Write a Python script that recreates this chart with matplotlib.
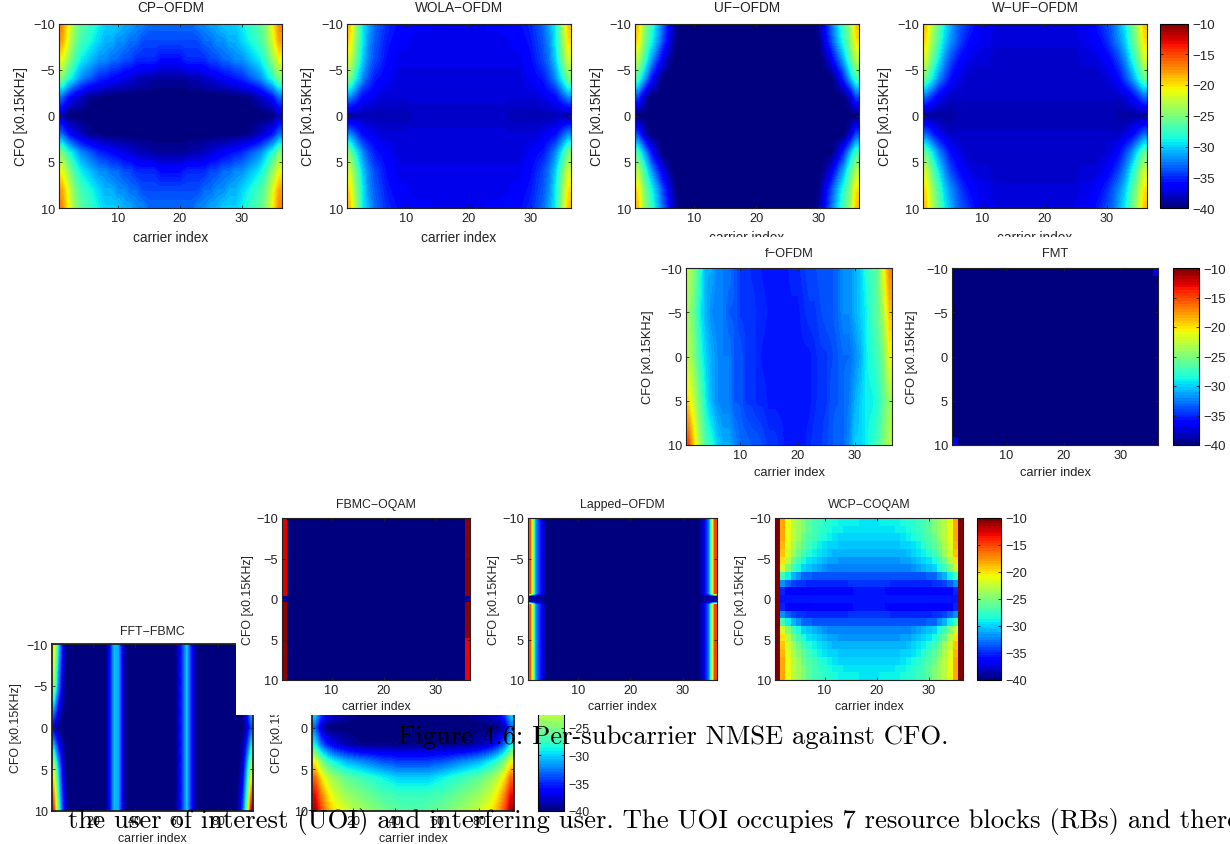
import matplotlib
matplotlib.use("Agg")
import matplotlib.pyplot as plt
from matplotlib.patches import Rectangle

plt.rcParams["font.family"] = ["Liberation Sans", "DejaVu Sans"]

W, H = 1230, 845
cmap = plt.get_cmap("jet", 64)

# left half of each row, top half of each panel (values in dB)
cp_half = [
    [-17, -20.5, -24, -26, -27, -28, -29, -30, -30, -30, -31, -31, -32, -32, -33, -33, -33, -33],
    [-18, -21.5, -25, -27, -28, -29, -30, -31, -31, -32, -32, -33, -33, -34, -34, -34, -34, -34],
    [-21, -24, -27, -29, -30, -31, -32, -32, -33, -33, -34, -34, -35, -35, -35, -35, -36, -36],
    [-25, -28, -30, -32, -33, -34, -35, -35.5, -36, -36.5, -37, -37.5, -38, -38.5, -38.5, -39, -39, -39],
    [-33, -35.5, -37, -38, -39, -39.5, -39.5, -40, -40, -40, -40, -40, -40, -40, -40, -40, -40, -40],
    [-38, -40, -40, -40, -40, -40, -40, -40, -40, -40, -40, -40, -40, -40, -40, -40, -40, -40],
]
wola_half = [
    [-19, -24, -29, -31, -33, -34, -35, -35.5, -36, -36, -36, -36.5, -36.5, -36.5, -37, -37, -37, -37],
    [-20, -25, -29, -32, -33.5, -34.5, -35.5, -36, -36.5, -36.5, -37, -37, -37, -37, -37, -37, -37, -37],
    [-22, -26, -30, -32.5, -34, -35, -36, -36.5, -37, -37, -37, -37, -37, -37, -37, -37, -37, -37],
    [-25, -29, -32, -34, -35.5, -36, -36.5, -37, -37.5, -37.5, -37.5, -37.5, -37.5, -37.5, -37.5, -37.5, -37.5, -37.5],
    [-32, -34, -36, -36.5, -37, -37.5, -37.5, -37.5, -37.5, -37.5, -37.5, -37.5, -37.5, -37.5, -37.5, -37.5, -37.5, -37.5],
    [-39, -38.5, -38.5, -38.5, -38.5, -38.5, -38.5, -38.5, -38.5, -38.5, -38, -38, -38, -38, -38, -38, -38, -38],
]
uf_half = [
    [-19, -24, -27, -30, -33, -36, -39] + [-40] * 11,
    [-20, -25, -28, -31, -34, -37, -39.5] + [-40] * 11,
    [-23, -27, -31, -34, -37, -39] + [-40] * 12,
    [-27, -31, -35, -38] + [-40] * 14,
    [-34, -38] + [-40] * 16,
    [-40] * 18,
]
wuf_half = [
    [-19, -23, -26, -29, -31, -33, -34, -35, -36, -36.5, -37, -37, -37.5, -37.5, -37.5, -37.5, -37.5, -37.5],
    [-20, -24, -27, -30, -32, -33.5, -35, -36, -36.5, -37, -37, -37.5, -37.5, -37.5, -37.5, -37.5, -37.5, -37.5],
    [-22, -26, -29, -32, -34, -35.5, -36.5, -37, -37.5, -37.5, -37.5, -38, -38, -38, -38, -38, -38, -38],
    [-26, -29, -32, -34, -36, -37, -37.5, -38, -38, -38, -38, -38, -38, -38, -38, -38, -38, -38],
    [-33, -35, -36.5, -37.5, -38, -38, -38, -38, -38, -38, -38, -38, -38, -38, -38, -38, -38, -38],
    [-39, -39, -39, -39, -39, -38.5, -38.5, -38.5, -38.5, -38.5, -38.5, -38.5, -38.5, -38.5, -38.5, -38.5, -38.5, -38.5],
]
fofdm_vals = [
    [-23, -25, -28, -31, -31, -32.5, -32.5, -32.5, -33.5, -34.5, -34.5, -35, -35, -35.5, -35.5, -35.5, -35.5, -35.5,
     -35, -35, -34.5, -34, -34, -33.5, -33.5, -33.5, -33, -32, -32, -31, -30, -28, -27, -26, -21, -17],
    [-24, -26, -29, -31, -32, -32.5, -32.5, -33.5, -33.5, -34.5, -34.5, -34.5, -35, -35, -35.5, -35.5, -35.5, -35.5,
     -35.5, -35.5, -35, -34.5, -34.5, -34, -33.5, -33.5, -33, -32, -32, -31, -30, -29, -27, -26, -23, -19],
    [-23, -25, -28, -30, -31, -32, -32.5, -32.5, -33.5, -33.5, -34.5, -34.5, -35, -35.5, -35.5, -35.5, -35.5, -35.5,
     -35.5, -35.5, -35.5, -35.5, -35, -34.5, -34.5, -34, -33.5, -33, -33, -32, -31, -29, -28, -27, -25, -21],
    [-20, -23, -26, -29, -31, -32, -32.5, -32.5, -33.5, -33.5, -34.5, -34.5, -35, -35, -35.5, -35.5, -35.5, -35.5,
     -35.5, -35.5, -35.5, -35.5, -35, -34.5, -34.5, -33.5, -33.5, -33, -32.5, -31, -30, -29, -29, -28, -26, -24],
    [-15, -20, -24, -27, -28, -30, -31, -31, -32, -33, -33, -33.5, -33.5, -34, -34.5, -34.5, -35, -35.5,
     -35.5, -35.5, -35.5, -35, -34.5, -34.5, -34, -33.5, -33, -33, -32, -30, -30, -29, -28, -27, -25, -23],
]
fmt_top = [-40] * 35 + [-37]
fmt_mid = [-40] * 36
fmt_bottom = [-37] + [-40] * 35

# first and last carrier of FBMC-OQAM along the CFO axis
fbmc_left = [-12.5] * 15 + [-39] + [-10.5] * 15
fbmc_right = [-10.5] * 15 + [-39] + [-10.5] * 7 + [-13] * 8
lapped_row = [-16, -32, -36] + [-40] * 30 + [-37, -32, -15]
lapped_zero = [-39, -39, -39] + [-40] * 30 + [-39, -39, -39]

wcp_half = [
    [-10, -18, -21, -23, -24, -25, -26, -27, -27, -28, -28, -28.5, -29, -29, -29, -29, -29.5, -29.5],
    [-10, -18, -21, -23, -24, -25, -26, -27, -27.5, -28, -28.5, -29, -29, -29.5, -29.5, -29.5, -29.5, -29.5],
    [-10, -18, -21, -23, -24, -25.5, -26.5, -27, -28, -28.5, -29, -29.5, -30, -30, -30, -30, -30, -30],
    [-10, -18.5, -21.5, -23.5, -25, -26, -27, -28, -29, -29.5, -30, -30, -30.5, -30.5, -30.5, -30.5, -30.5, -30.5],
    [-10, -19, -22, -24, -25.5, -27, -28, -29, -29.5, -30, -30.5, -31, -31, -31, -31, -31, -31, -31],
    [-10, -20, -23, -25.5, -27, -28.5, -29.5, -30, -30.5, -31, -31.5, -31.5, -32, -32, -32, -32, -32, -32],
    [-10, -22, -25, -27, -28.5, -30, -30.5, -31, -31.5, -32, -32.5, -32.5, -32.5, -32.5, -32.5, -32.5, -32.5, -32.5],
    [-10, -27, -29, -31, -32, -33, -33, -33.5, -33.5, -33.5, -33.5, -33.5, -33.5, -33.5, -33.5, -33.5, -33.5, -33.5],
    [-10, -32, -33, -34, -34.5, -34.5, -35, -35, -35, -35, -35, -35, -35, -35, -34.5, -34.5, -34.5, -34.5],
    [-10, -35, -36, -36, -36.5, -36.5, -36.5, -36, -36, -36, -36, -36, -36, -36, -36, -35.5, -35.5, -35.5],
    [-10, -35.5, -35.5, -35.5, -35.5, -35.5, -35.5, -35.5, -35.5, -35.5, -35.5, -35.5, -35.5, -35.5, -35.5, -35.5, -35.5, -35.5],
]

# FFT-FBMC, one value per two carriers
fft_middle = [-40] * 9 + [-36, -30.5, -31, -37] + [-40] * 12 + [-38, -34, -30, -35, -39] + [-40] * 9
fft_left = [
    [-20, -29, -36, -40],
    [-24, -32, -38, -40],
    [-37, -40, -40, -40],
    [-22, -30, -37, -40],
    [-14, -26, -34, -39],
]
fft_right = [
    [-40, -38, -30, -20],
    [-40, -39, -33, -25],
    [-40, -40, -38, -34],
    [-40, -38, -31, -23],
    [-39, -34, -26, -12],
]

# panel without a visible title, half row per three carriers
last_half = [
    [-11, -15, -18, -20, -21, -22, -23, -23.5, -24, -24.5, -25, -25.5, -26, -26, -26.5, -26.5],
    [-13, -17, -20, -22, -23, -24, -24.5, -25, -25.5, -26, -26.5, -27, -27, -27.5, -27.5, -27.5],
    [-16, -20, -22.5, -24, -25, -26, -26.5, -27, -27.5, -28, -28.5, -29, -29.5, -30, -30, -30],
    [-21, -25, -27.5, -29, -30, -31, -31.5, -32, -32.5, -33, -33.5, -34, -34, -34.5, -34.5, -34.5],
    [-29, -33, -35.5, -37, -38, -38.5, -39, -39.5, -39.5, -39.5, -39.5, -39.5, -39.5, -39.5, -39.5, -39.5],
    [-33, -38] + [-40] * 14,
]

cfo_ticks = [-10, -5, 0, 5, 10]
carrier_ticks = [10, 20, 30]
wide_ticks = [20, 40, 60, 80]
cbar_ticks = [-10, -15, -20, -25, -30, -35, -40]
cbar_ticks_low = [-25, -30, -35, -40]


def mirror_lr(half):
    return [row + row[::-1] for row in half]


def mirror_ud(rows):
    return rows + rows[-2::-1]


def px_axes(x0, x1, y0, y1, z):
    return fig.add_axes([x0 / W, 1 - y1 / H, (x1 - x0) / W, (y1 - y0) / H], zorder=z)


def panel(box, data, title, z, fs=9.2, tfs=9.8, interp="bilinear", xticks=carrier_ticks, xmax=36.5,
          dy=29, dx=38, tdy=16, lw=0.8):
    x0, x1, y0, y1 = box
    ax = px_axes(x0, x1, y0, y1, z)
    n = len(data)
    half = 10 / (n - 1)
    extent = [0.5, xmax, 10 + half, -10 - half]
    if interp == "nearest":
        extent = [0.5, xmax, 10, -10]
    im = ax.imshow(data, cmap=cmap, vmin=-40, vmax=-10, aspect="auto", extent=extent,
                   interpolation=interp, interpolation_stage="data")
    ax.set_xlim(0.5, xmax)
    ax.set_ylim(10, -10)
    ax.set_xticks(xticks)
    ax.set_yticks(cfo_ticks)
    ax.tick_params(direction="in", length=2.5, width=0.6, top=True, right=True, labelsize=fs,
                   pad=3, colors="#222222")
    for s in ax.spines.values():
        s.set_linewidth(lw)
        s.set_color("#222222")
    fig.text((x0 + x1) / 2 / W, 1 - (y1 + dy) / H, "carrier index", fontsize=tfs, color="#222222",
             ha="center", va="center", zorder=z)
    fig.text((x0 - dx) / W, 1 - (y0 + y1) / 2 / H, "CFO [x0.15KHz]", fontsize=tfs, color="#222222",
             rotation=90, ha="center", va="center", zorder=z)
    if title:
        fig.text((x0 + x1) / 2 / W, 1 - (y0 - tdy) / H, title, fontsize=tfs, color="#222222",
                 ha="center", va="center", zorder=z)
    return im


def colorbar(im, box, z, ticks=cbar_ticks, fs=9.5):
    x0, x1, y0, y1 = box
    cax = px_axes(x0, x1, y0, y1, z)
    cb = fig.colorbar(im, cax=cax, ticks=ticks)
    cb.outline.set_linewidth(0.8)
    cax.tick_params(direction="in", length=2.5, width=0.6, left=True, right=True, labelsize=fs,
                    pad=3, colors="#222222")


fig = plt.figure(figsize=(W / 100, H / 100), dpi=100)

# bottom row sits under the pasted white block
fft_vals = [a + fft_middle + b for a, b in zip(fft_left, fft_right)]
panel((52, 253, 645, 812), fft_vals, "FFT\u2212FBMC", 1, fs=9, tfs=8.9, xticks=wide_ticks,
      xmax=96.5, dy=27, dx=36, tdy=13, lw=1.3)
im = panel((312, 514, 645, 812), mirror_ud(mirror_lr(last_half)), None, 1, fs=9, tfs=8.9,
           xticks=wide_ticks, xmax=96.5, dy=27, dx=35, lw=1.3)
colorbar(im, (538, 564, 645, 812), 1, ticks=cbar_ticks_low, fs=9)

fig.add_artist(Rectangle((236 / W, 1 - 716 / H), (W - 236) / W, 120 / H, transform=fig.transFigure,
                         facecolor="white", edgecolor="none", zorder=2))

# first row
panel((59, 282, 24.5, 209), mirror_ud(mirror_lr(cp_half)), "CP\u2212OFDM", 1)
panel((347, 571, 24.5, 209), mirror_ud(mirror_lr(wola_half)), "WOLA\u2212OFDM", 1, dx=39)
panel((635, 859, 24.5, 209), mirror_ud(mirror_lr(uf_half)), "UF\u2212OFDM", 1)
im = panel((923, 1147, 24.5, 209), mirror_ud(mirror_lr(wuf_half)), "W\u2212UF\u2212OFDM", 1)
colorbar(im, (1160, 1188, 24.5, 209), 1)

fig.add_artist(Rectangle((600 / W, 1 - 268 / H), 630 / W, 30 / H, transform=fig.transFigure,
                         facecolor="white", edgecolor="none", zorder=2))

# second row
panel((686, 892, 269, 446), fofdm_vals, "f\u2212OFDM", 3, tfs=9.3, dy=27, tdy=15)
fmt_vals = [fmt_top] + [fmt_mid] * 19 + [fmt_bottom]
im = panel((952, 1158, 269, 446), fmt_vals, "FMT", 3, tfs=9.3, interp="nearest", dy=27, dx=40, tdy=15)
colorbar(im, (1173, 1199, 269, 446), 3)

# third row
fbmc_vals = [[a] + [-40] * 34 + [b] for a, b in zip(fbmc_left, fbmc_right)]
panel((282, 470, 519, 681), fbmc_vals, "FBMC\u2212OQAM", 3, tfs=8.9, interp="nearest",
      dy=26, dx=34, tdy=14)
lapped_vals = [lapped_row] * 30 + [lapped_zero] * 3 + [lapped_row] * 30
panel((528, 717, 519, 681), lapped_vals, "Lapped\u2212OFDM", 3, tfs=8.9, dy=26, dx=34, tdy=14)
im = panel((775, 963, 519, 681), mirror_ud(mirror_lr(wcp_half)), "WCP\u2212COQAM", 3, tfs=8.9,
           interp="nearest", dy=26, dx=34, tdy=14)
colorbar(im, (977, 1001, 519, 681), 3, fs=9.2)

# page text laid over the figures
fig.text(398 / W, 1 - 737 / H, "Figure 4.6: Per-subcarrier NMSE against CFO.", family="cmr10",
         fontsize=19.2, color="black", ha="left", va="center", zorder=5)
fig.text(68 / W, 1 - 822 / H,
         "the user of interest (UOI) and interfering user. The UOI occupies 7 resource blocks (RBs) and there",
         family="cmr10", fontsize=19.2, color="black", ha="left", va="center", zorder=5)

fig.savefig("out.png", dpi=100)
